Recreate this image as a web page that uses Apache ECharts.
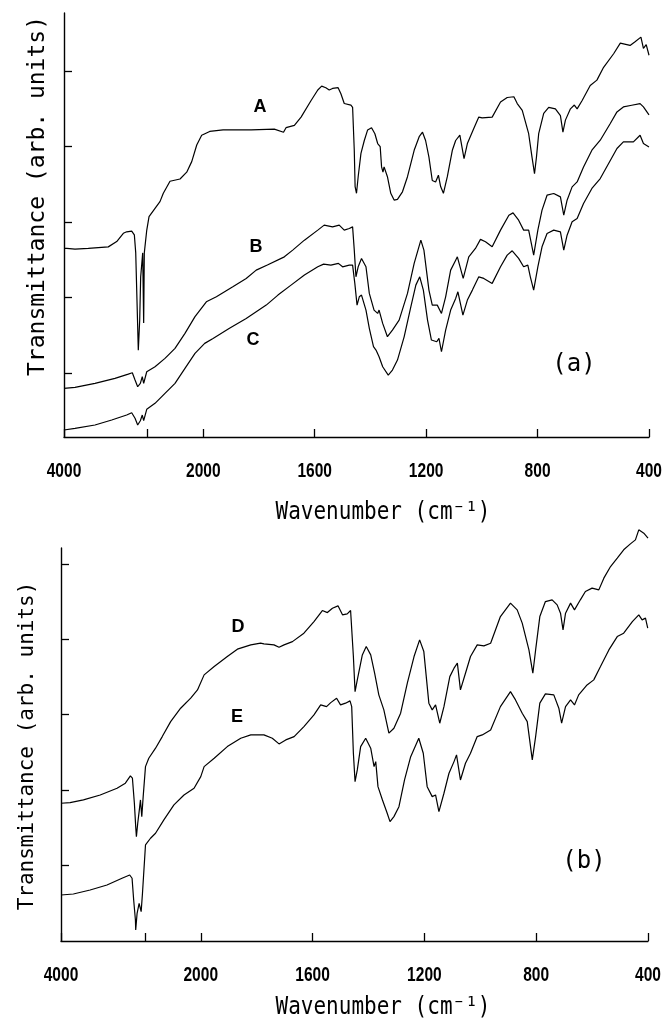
<!DOCTYPE html>
<html>
<head>
<meta charset="utf-8">
<script src="https://cdn.jsdelivr.net/npm/echarts@6/dist/echarts.min.js"></script>
<style>
  html, body { margin: 0; padding: 0; background: #ffffff; }
  #chart { width: 662px; height: 1025px; }
</style>
</head>
<body>
<div id="chart"></div>
<script>
// ---- Data: [wavenumber (cm-1), transmittance (arb. units)] ----
var specA = [[4000,2.50],[3960,2.50],[3842,2.49],[3651,2.50],[3364,2.52],[3243,2.59],[3148,2.70],[3100,2.72],[3028,2.73],[2990,2.68],[2970,2.44],[2952,1.81],[2933,1.15],[2913,1.55],[2899,2.12],[2870,2.44],[2856,1.51],[2847,2.44],[2812,2.74],[2779,2.92],[2693,3.03],[2622,3.12],[2574,3.23],[2478,3.39],[2334,3.42],[2238,3.51],[2166,3.65],[2094,3.87],[2023,4.00],[1977,4.05],[1929,4.07],[1828,4.07],[1745,4.08],[1712,4.04],[1703,4.10],[1673,4.13],[1649,4.24],[1613,4.46],[1589,4.60],[1575,4.65],[1560,4.63],[1548,4.60],[1536,4.62],[1516,4.63],[1506,4.55],[1494,4.42],[1470,4.40],[1464,4.37],[1458,3.80],[1455,3.32],[1450,3.23],[1444,3.45],[1434,3.76],[1422,3.93],[1410,4.07],[1396,4.10],[1384,4.02],[1374,3.89],[1365,3.85],[1360,3.58],[1355,3.51],[1351,3.58],[1339,3.45],[1327,3.23],[1315,3.14],[1303,3.15],[1285,3.25],[1267,3.45],[1243,3.80],[1225,3.98],[1213,4.04],[1202,3.93],[1190,3.71],[1178,3.40],[1166,3.38],[1156,3.47],[1148,3.32],[1138,3.23],[1124,3.45],[1106,3.80],[1094,3.93],[1079,4.00],[1064,3.69],[1052,3.89],[1029,4.09],[1011,4.24],[999,4.23],[963,4.24],[933,4.44],[909,4.50],[885,4.51],[873,4.42],[855,4.33],[832,4.02],[820,3.71],[811,3.49],[804,3.71],[796,4.02],[778,4.29],[760,4.37],[736,4.35],[718,4.26],[709,4.04],[700,4.20],[682,4.35],[668,4.40],[658,4.35],[640,4.46],[611,4.66],[587,4.73],[563,4.90],[527,5.08],[503,5.22],[468,5.19],[450,5.24],[429,5.30],[420,5.15],[410,5.20],[400,5.06]];

var specB = [[4000,0.645],[3842,0.658],[3555,0.711],[3268,0.777],[3077,0.834],[3019,0.852],[2980,0.755],[2942,0.666],[2904,0.711],[2876,0.799],[2856,0.711],[2812,0.865],[2693,0.931],[2550,1.042],[2406,1.175],[2263,1.374],[2119,1.595],[1989,1.792],[1953,1.858],[1894,1.991],[1846,2.102],[1810,2.212],[1770,2.28],[1709,2.388],[1679,2.477],[1637,2.609],[1589,2.742],[1566,2.808],[1536,2.785],[1512,2.808],[1494,2.742],[1476,2.764],[1464,2.785],[1458,2.477],[1452,2.123],[1444,2.256],[1432,2.367],[1416,2.256],[1404,1.903],[1387,1.682],[1374,1.638],[1369,1.682],[1356,1.506],[1339,1.329],[1321,1.417],[1297,1.550],[1267,1.903],[1243,2.301],[1219,2.609],[1208,2.477],[1190,1.947],[1178,1.748],[1160,1.748],[1145,1.638],[1130,1.858],[1112,2.212],[1094,2.344],[1088,2.388],[1067,2.102],[1047,2.388],[1023,2.499],[1005,2.619],[987,2.587],[963,2.521],[933,2.742],[903,2.940],[888,2.971],[868,2.874],[850,2.742],[832,2.742],[814,2.411],[799,2.742],[784,3.007],[766,3.205],[742,3.228],[718,3.183],[706,2.940],[694,3.139],[676,3.315],[658,3.381],[635,3.580],[605,3.801],[575,3.934],[539,4.155],[515,4.309],[492,4.375],[462,4.397],[432,4.419],[420,4.375],[400,4.27]];

var specC = [[4000,0.093],[3842,0.115],[3555,0.159],[3315,0.225],[3100,0.291],[3028,0.322],[2980,0.248],[2942,0.159],[2904,0.216],[2876,0.291],[2856,0.216],[2812,0.367],[2693,0.446],[2550,0.579],[2406,0.711],[2263,0.910],[2119,1.109],[1995,1.241],[1965,1.307],[1906,1.440],[1846,1.572],[1774,1.748],[1732,1.881],[1685,2.013],[1637,2.146],[1589,2.256],[1568,2.291],[1542,2.278],[1515,2.301],[1500,2.256],[1476,2.278],[1464,2.278],[1456,2.036],[1448,1.748],[1440,1.858],[1432,1.881],[1416,1.682],[1404,1.440],[1389,1.197],[1380,1.152],[1374,1.175],[1369,1.064],[1356,0.931],[1336,0.821],[1321,0.887],[1303,1.020],[1279,1.328],[1255,1.726],[1237,2.013],[1223,2.123],[1210,1.947],[1195,1.550],[1181,1.285],[1162,1.262],[1154,1.307],[1145,1.130],[1130,1.417],[1112,1.682],[1094,1.837],[1086,1.925],[1068,1.616],[1052,1.815],[1034,1.947],[1011,2.123],[993,2.102],[963,2.036],[933,2.256],[909,2.411],[891,2.468],[868,2.367],[850,2.256],[835,2.278],[826,2.123],[814,1.947],[799,2.256],[784,2.521],[766,2.698],[742,2.742],[718,2.719],[706,2.477],[694,2.675],[676,2.852],[658,2.897],[635,3.095],[605,3.294],[575,3.426],[545,3.625],[515,3.824],[492,3.911],[456,3.911],[432,4.0],[420,3.890],[400,3.845]];

var specD = [[4000,1.826],[3870,1.834],[3679,1.870],[3439,1.936],[3198,2.025],[3079,2.092],[3007,2.188],[2978,2.158],[2950,1.826],[2931,1.516],[2921,1.383],[2902,1.561],[2882,1.715],[2863,1.870],[2844,1.649],[2824,1.914],[2791,2.312],[2744,2.423],[2647,2.556],[2551,2.710],[2431,2.908],[2288,3.086],[2144,3.219],[2047,3.329],[1988,3.528],[1952,3.638],[1905,3.771],[1869,3.869],[1821,3.926],[1786,3.948],[1774,3.939],[1738,3.926],[1720,3.895],[1702,3.926],[1672,3.969],[1631,4.081],[1595,4.235],[1565,4.381],[1547,4.354],[1529,4.412],[1509,4.443],[1493,4.324],[1476,4.337],[1464,4.381],[1458,4.367],[1454,3.771],[1448,3.306],[1440,3.462],[1422,3.793],[1408,3.903],[1392,3.793],[1378,3.550],[1371,3.572],[1363,3.263],[1345,3.064],[1327,2.755],[1309,2.821],[1285,3.020],[1261,3.418],[1237,3.771],[1217,3.992],[1202,3.837],[1184,3.153],[1172,3.064],[1160,3.130],[1145,2.887],[1130,3.107],[1109,3.505],[1094,3.617],[1082,3.683],[1071,3.329],[1053,3.550],[1035,3.771],[1011,3.926],[987,3.912],[963,3.948],[928,4.301],[892,4.479],[868,4.390],[850,4.214],[826,3.859],[812,3.550],[802,3.859],[787,4.301],[767,4.500],[743,4.523],[725,4.456],[713,4.346],[704,4.125],[695,4.346],[677,4.479],[663,4.390],[642,4.523],[624,4.633],[600,4.678],[576,4.655],[558,4.810],[534,4.964],[510,5.076],[487,5.186],[463,5.265],[445,5.318],[433,5.451],[415,5.407],[400,5.341]];

var specE = [[4000,0.610],[3823,0.623],[3583,0.676],[3342,0.743],[3127,0.832],[3017,0.875],[2983,0.832],[2960,0.544],[2935,0.279],[2931,0.146],[2911,0.367],[2882,0.500],[2853,0.389],[2834,0.633],[2791,1.273],[2719,1.362],[2647,1.428],[2528,1.605],[2384,1.804],[2240,1.936],[2096,2.025],[2000,2.179],[1988,2.312],[1952,2.423],[1905,2.577],[1857,2.688],[1821,2.732],[1786,2.732],[1774,2.732],[1744,2.688],[1720,2.613],[1696,2.666],[1666,2.710],[1631,2.842],[1595,2.997],[1571,3.130],[1550,3.107],[1535,3.160],[1514,3.219],[1500,3.130],[1482,3.153],[1466,3.183],[1460,3.107],[1454,2.489],[1448,2.113],[1440,2.268],[1428,2.577],[1410,2.688],[1392,2.556],[1380,2.312],[1374,2.378],[1366,2.046],[1350,1.870],[1333,1.694],[1323,1.582],[1309,1.649],[1291,1.781],[1271,2.135],[1249,2.444],[1220,2.688],[1204,2.489],[1190,2.046],[1172,1.914],[1160,1.936],[1148,1.715],[1130,1.959],[1112,2.224],[1094,2.378],[1085,2.467],[1071,2.135],[1053,2.357],[1035,2.489],[1011,2.710],[993,2.732],[963,2.798],[928,3.107],[892,3.306],[874,3.196],[850,3.020],[832,2.908],[814,2.401],[802,2.710],[787,3.153],[767,3.276],[737,3.263],[719,3.086],[709,2.887],[695,3.107],[677,3.196],[663,3.130],[648,3.263],[618,3.395],[594,3.462],[570,3.638],[540,3.859],[510,4.036],[487,4.081],[456,4.235],[433,4.324],[421,4.257],[409,4.280],[401,4.147]];

var xTickWavenumbers = [4000, 2800, 2000, 1600, 1200, 800, 400];
var xLabelWavenumbers = [4000, 2000, 1600, 1200, 800, 400];
var yTicksA = [0.85, 1.85, 2.85, 3.85, 4.85];
var yTicksB = [1, 2, 3, 4, 5];

// Broken scale: 4000-2000 region compressed 4x
function toAxis(w) { return w <= 2000 ? w : 2000 + (w - 2000) / 4; }
function mapSpec(s) { return s.map(function (p) { return [toAxis(p[0]), p[1]]; }); }

var monoFont = '"DejaVu Sans Mono", "Liberation Mono", monospace';
var tickFont = 'bold 21px "Liberation Sans", Arial, sans-serif';
var letterFont = 'bold 18px "Liberation Sans", Arial, sans-serif';

function makeX(gridIndex) {
  return {
    type: 'value', gridIndex: gridIndex, inverse: true,
    min: toAxis(400), max: toAxis(4000),
    axisLine: { show: true, onZero: false, lineStyle: { color: '#000', width: 1.4 } },
    axisTick: { show: true, inside: true, length: 8, lineStyle: { color: '#000', width: 1.3 },
      customValues: xTickWavenumbers.map(toAxis) },
    axisLabel: { show: false },
    splitLine: { show: false }
  };
}
function makeY(gridIndex, max, ticks) {
  return {
    type: 'value', gridIndex: gridIndex, min: 0, max: max,
    axisLine: { show: true, onZero: false, lineStyle: { color: '#000', width: 1.4 } },
    axisTick: { show: true, inside: true, length: 8, lineStyle: { color: '#000', width: 1.3 }, customValues: ticks },
    axisLabel: { show: false },
    splitLine: { show: false }
  };
}
function makeSeries(spec, xi) {
  return {
    type: 'line', xAxisIndex: xi, yAxisIndex: xi, data: mapSpec(spec),
    showSymbol: false, symbol: 'none', clip: false, smooth: false,
    lineStyle: { color: '#000', width: 1.2 }, silent: true
  };
}
function txt(x, y, text, font, extra) {
  var o = { type: 'text', x: x, y: y,
    style: { text: text, font: font, fill: '#000', textAlign: 'center', textVerticalAlign: 'middle' } };
  if (extra) { for (var k in extra) { o[k] = extra[k]; } }
  return o;
}

var graphics = [
  txt(38, 196, 'Transmittance (arb. units)', '23px ' + monoFont, { rotation: Math.PI / 2 }),
  txt(28, 746, 'Transmittance (arb. units)', '21px ' + monoFont, { rotation: Math.PI / 2 }),
  txt(383, 513, 'Wavenumber (cm\u207B\u00B9)', '21px ' + monoFont, { scaleY: 1.15 }),
  txt(383, 1008, 'Wavenumber (cm\u207B\u00B9)', '21px ' + monoFont, { scaleY: 1.15 }),
  txt(260, 107, 'A', letterFont), txt(256, 247, 'B', letterFont), txt(253, 340, 'C', letterFont),
  txt(238, 627, 'D', letterFont), txt(237, 717, 'E', letterFont),
  txt(574, 365, '(a)', '24px ' + monoFont), txt(584, 862, '(b)', '24px ' + monoFont)
];

var chart = echarts.init(document.getElementById('chart'), null, { renderer: 'canvas' });
var option = {
  animation: false,
  backgroundColor: '#fff',
  grid: [
    { left: 64, top: 13, width: 585, height: 424 },
    { left: 61, top: 548, width: 587, height: 393 }
  ],
  xAxis: [makeX(0), makeX(1)],
  yAxis: [makeY(0, 5.62, yTicksA), makeY(1, 5.21, yTicksB)],
  series: [
    makeSeries(specA, 0), makeSeries(specB, 0), makeSeries(specC, 0),
    makeSeries(specD, 1), makeSeries(specE, 1)
  ],
  graphic: graphics
};
chart.setOption(option);

// Tick labels (condensed look), positioned through the axis scales
var labelGraphics = [];
[0, 1].forEach(function (gi) {
  xLabelWavenumbers.forEach(function (w) {
    var p = chart.convertToPixel({ xAxisIndex: gi, yAxisIndex: gi }, [toAxis(w), 0]);
    labelGraphics.push(txt(p[0], p[1] + 34, String(w), tickFont, { scaleX: 0.74 }));
  });
});
chart.setOption({ graphic: graphics.concat(labelGraphics) });
</script>
</body>
</html>
